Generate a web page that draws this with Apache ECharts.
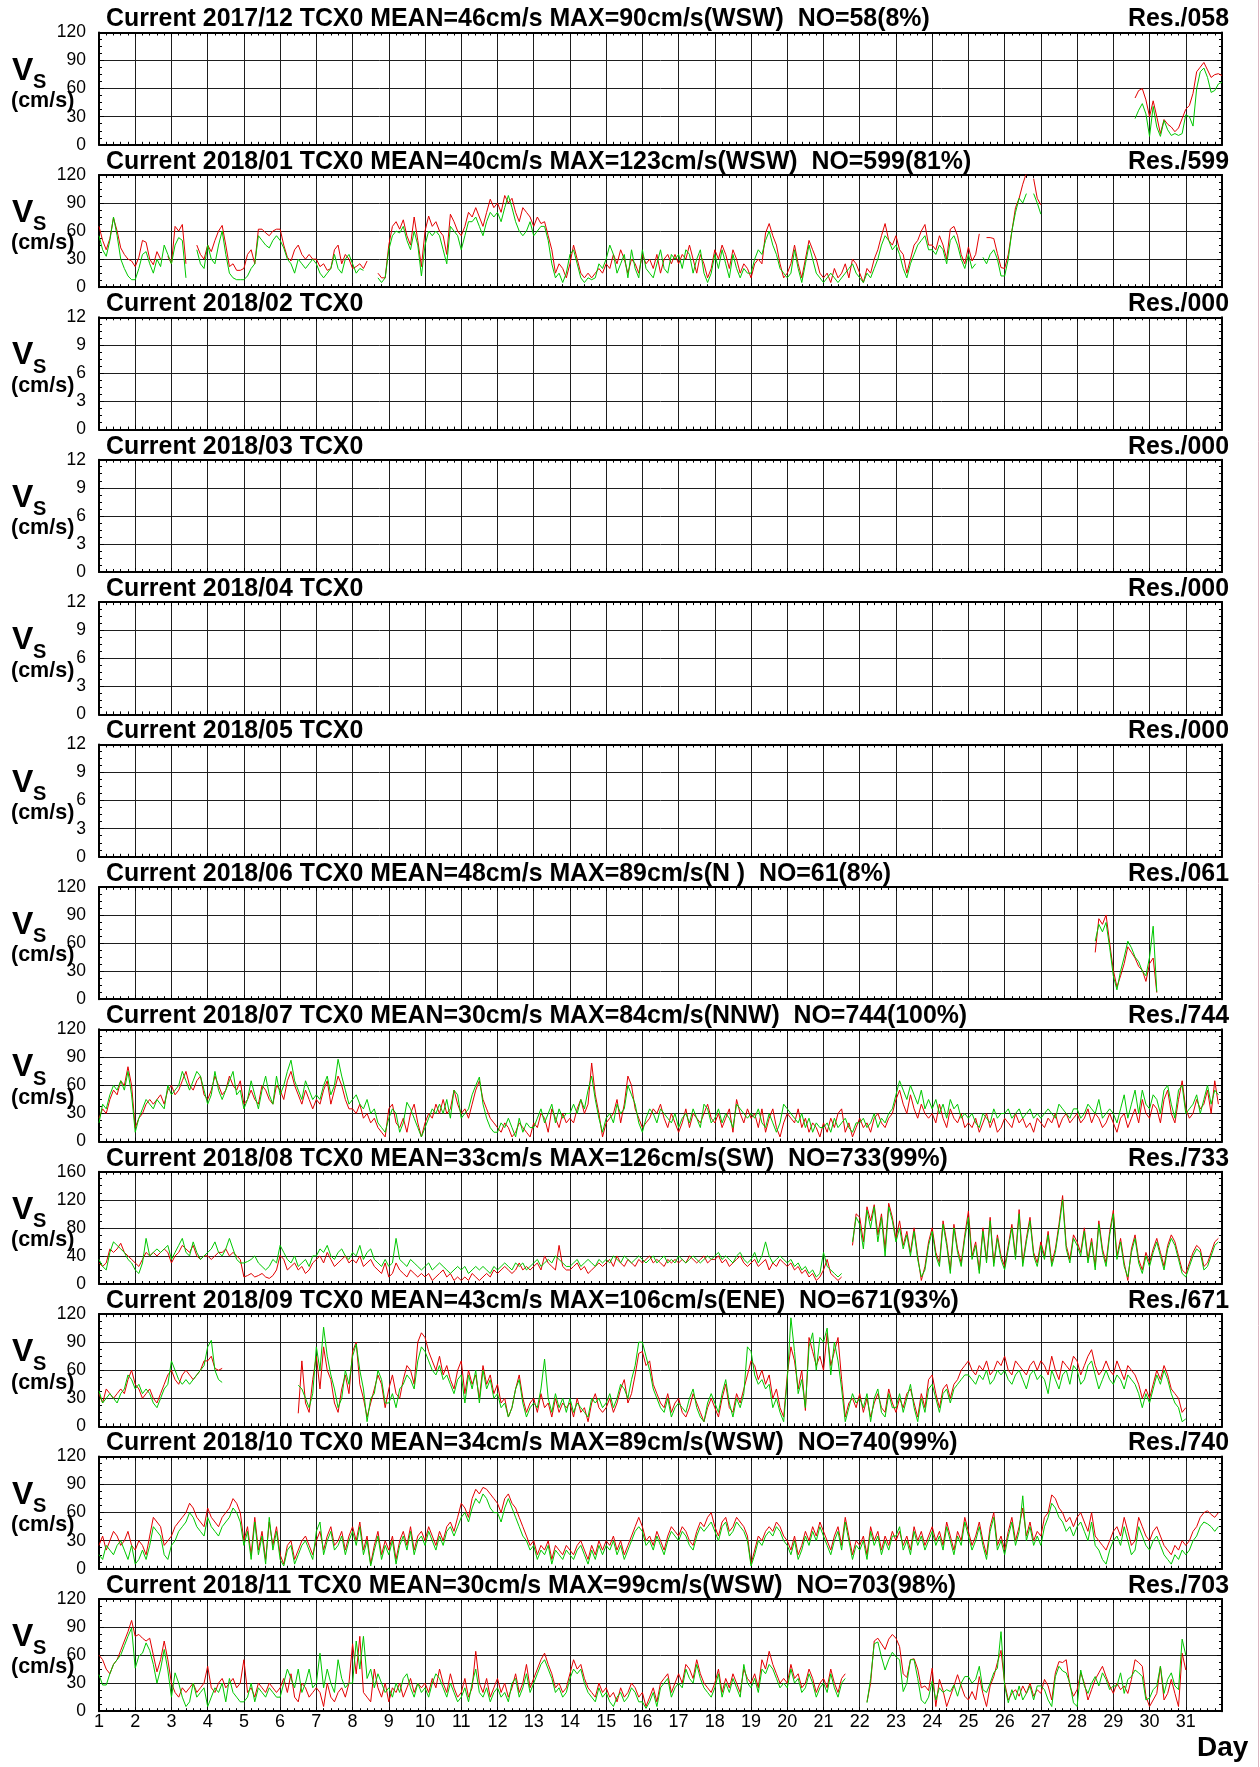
<!DOCTYPE html>
<html><head><meta charset="utf-8">
<script src="https://cdn.jsdelivr.net/npm/echarts@6/dist/echarts.min.js"></script>
<style>html,body{margin:0;padding:0;background:#fff}#c{width:1260px;height:1767px}</style>
</head><body><div id="c"></div><script>
const _ = null;
// ---- titles / labels ----
const titles = [
 'Current 2017/12 TCX0 MEAN=46cm/s MAX=90cm/s(WSW)  NO=58(8%)',
 'Current 2018/01 TCX0 MEAN=40cm/s MAX=123cm/s(WSW)  NO=599(81%)',
 'Current 2018/02 TCX0',
 'Current 2018/03 TCX0',
 'Current 2018/04 TCX0',
 'Current 2018/05 TCX0',
 'Current 2018/06 TCX0 MEAN=48cm/s MAX=89cm/s(N )  NO=61(8%)',
 'Current 2018/07 TCX0 MEAN=30cm/s MAX=84cm/s(NNW)  NO=744(100%)',
 'Current 2018/08 TCX0 MEAN=33cm/s MAX=126cm/s(SW)  NO=733(99%)',
 'Current 2018/09 TCX0 MEAN=43cm/s MAX=106cm/s(ENE)  NO=671(93%)',
 'Current 2018/10 TCX0 MEAN=34cm/s MAX=89cm/s(WSW)  NO=740(99%)',
 'Current 2018/11 TCX0 MEAN=30cm/s MAX=99cm/s(WSW)  NO=703(98%)'
];
const resLabels = ['Res./058','Res./599','Res./000','Res./000','Res./000','Res./000','Res./061','Res./744','Res./733','Res./671','Res./740','Res./703'];
const yMaxes = [120,120,12,12,12,12,120,120,160,120,120,120];
const ySteps = [30,30,3,3,3,3,30,30,40,30,30,30];
const yTicks120 = ['0','30','60','90','120'];
const yTicks12 = ['0','3','6','9','12'];
const yTicks160 = ['0','40','80','120','160'];
const dayLabels = ['1','2','3','4','5','6','7','8','9','10','11','12','13','14','15','16','17','18','19','20','21','22','23','24','25','26','27','28','29','30','31'];

// ---- data: values every 0.1 day starting at *_start ----
const dec_start = 29.6;
const dec_red = [50,58,60,48,30,47,30,12,27,22,19,14,18,28,38,42,55,78,83,88,80,72,75,76,74];
const dec_green = [28,37,44,33,9,41,19,9,26,16,10,12,10,12,32,30,20,60,78,82,72,56,58,65,67];

const jan_start = 1;
const jan_red = [
65,50,40,52,74,60,42,35,30,28, 22,32,50,48,30,24,38,30,_,33, 25,65,60,67,25,_,_,45,35,30,
45,38,50,60,66,45,22,25,18,18, 20,35,40,25,62,62,58,55,60,62, 62,45,32,28,40,45,35,30,35,30,
30,22,25,18,20,40,45,25,35,30, 20,22,25,20,28,_,_,15,10,10, 45,65,70,62,72,55,45,75,50,22,
60,76,65,70,60,55,35,78,70,60, 55,65,80,75,85,75,65,80,94,85, 90,80,98,90,95,80,70,85,80,75,
65,75,68,70,55,40,15,25,20,10, 25,45,30,15,10,15,10,15,20,15, 25,20,35,25,40,30,15,30,25,15,
35,25,30,20,35,15,30,35,25,35, 25,35,30,45,30,15,35,25,10,20, 40,30,45,35,20,40,30,15,25,20,
10,25,30,25,58,68,55,45,25,10, 15,25,45,25,10,30,50,40,30,15, 10,15,5,20,10,15,25,10,30,25,
15,5,20,15,30,40,55,68,50,45, 55,40,35,15,30,45,50,60,67,45, 45,40,55,45,30,62,65,55,35,25,
43,28,35,57,_,53,53,52,36,21, 20,35,60,85,95,110,122,_,116,95, 88];
const jan_green = [
55,40,33,50,75,55,30,20,12,8, 8,20,35,38,25,15,30,22,45,35, 25,45,53,50,10,_,_,40,25,20,
45,30,25,45,60,35,15,10,8,8, 8,12,20,25,55,50,45,42,50,55, 50,42,30,25,15,30,25,20,25,30,
25,15,10,15,20,35,20,15,30,35, 25,15,20,18,_,_,_,10,5,10, 40,55,60,58,65,50,40,60,45,12,
45,60,55,60,55,40,25,65,60,55, 40,55,70,70,75,65,55,70,80,75, 80,70,85,98,85,70,60,55,60,70,
55,60,65,65,50,25,10,15,5,15, 35,40,25,10,5,10,8,10,25,20, 30,45,35,15,25,35,10,40,20,10,
40,20,15,10,25,40,20,15,35,30, 35,20,40,35,15,30,40,15,5,15, 35,20,40,25,10,35,20,10,20,15,
15,30,40,35,50,60,45,35,20,15, 10,15,40,20,5,25,45,30,15,10, 5,10,15,10,5,10,15,20,25,15,
10,5,15,10,20,30,45,55,50,40, 45,35,20,10,25,35,45,50,55,40, 40,35,45,40,25,50,55,45,30,20,
35,20,25,_,32,25,35,40,30,12, 12,30,60,80,95,90,100,_,100,90, 78];

const jun_start = 28.5;
const jun_red = [50,86,80,90,60,31,13,25,38,56,50,44,35,31,19,38,44,7];
const jun_green = [62,80,72,82,55,25,10,30,45,62,55,45,40,30,25,45,78,8];

const jul_start = 1;
const jul_red = [
25,35,30,45,55,50,65,60,80,60, 15,25,30,40,45,40,45,50,40,55, 60,50,55,65,75,60,55,65,70,50,
45,55,70,60,50,55,70,60,55,65, 40,45,55,45,40,60,55,45,40,60, 55,45,65,75,60,50,40,55,45,35,
45,40,55,65,40,55,70,60,45,35, 35,30,40,25,30,20,25,15,10,5, 35,40,20,15,25,10,30,40,20,5,
20,30,25,40,30,45,30,35,55,40, 30,35,25,40,55,65,45,35,25,20, 15,10,20,15,5,10,20,15,10,5,
20,15,30,25,10,35,25,15,30,20, 25,20,35,45,30,40,84,50,30,5, 20,25,30,45,20,40,70,60,35,25,
15,20,25,35,30,40,25,15,30,20, 10,20,35,15,30,25,20,30,40,25, 20,30,15,25,35,10,45,30,20,35,
25,30,15,35,10,25,35,15,5,20, 30,25,20,35,15,25,10,20,15,5, 20,10,25,15,30,35,10,20,5,15,
25,15,20,10,25,30,20,15,25,30, 45,55,40,30,50,35,25,40,30,25, 30,20,40,25,15,35,25,20,30,15,
20,15,25,10,20,30,15,25,10,15, 25,20,15,30,20,25,15,20,10,25, 20,15,25,20,30,15,25,30,20,25,
30,20,25,35,20,30,25,15,20,30, 20,10,25,30,15,25,35,20,45,30, 25,40,35,20,45,55,30,20,45,65,
35,25,30,45,35,40,55,30,65,40];
const jul_green = [
20,40,35,50,60,55,65,55,75,50, 10,25,35,45,40,35,45,40,35,60, 50,55,60,75,65,55,65,75,70,55,
40,50,75,55,45,55,65,75,50,55, 35,45,65,50,35,55,70,50,40,70, 50,60,75,87,65,55,45,65,55,45,
50,45,60,70,50,60,88,70,55,40, 45,50,40,35,45,30,35,20,15,10, 25,35,30,10,20,42,35,25,15,5,
15,25,35,30,40,30,45,25,55,50, 25,30,35,50,60,69,40,25,15,10, 10,20,15,25,15,5,25,10,20,15,
15,25,35,20,30,40,20,35,25,30, 30,40,30,45,35,55,70,45,25,10, 25,30,20,40,30,35,60,50,40,20,
10,25,35,30,20,35,30,25,20,30, 15,25,30,20,35,25,15,40,35,20, 25,35,20,30,25,15,40,35,30,25,
30,25,35,20,15,30,20,10,20,40, 35,30,25,20,30,15,25,10,20,15, 15,20,10,25,15,20,25,15,10,20,
20,25,15,20,30,15,25,20,30,35, 50,65,55,45,60,50,40,55,35,45, 35,45,30,40,25,45,35,40,25,30,
25,30,20,15,30,25,20,35,25,30, 30,35,25,30,35,25,30,35,25,30, 25,30,35,30,25,40,35,30,25,35,
35,25,30,40,35,30,45,25,30,35, 30,20,35,50,25,40,55,30,55,40, 35,50,45,30,55,60,40,25,55,60,
30,35,40,50,30,45,60,40,55,50];

const aug_start = 1;
const aug_red = [
30,25,30,50,45,50,58,45,40,35, 30,25,35,45,40,45,40,45,50,45, 30,40,45,55,50,45,55,40,35,40,
40,35,40,45,45,50,40,45,40,35, 10,12,15,10,12,15,10,8,12,20, 41,35,20,25,30,20,25,15,20,30,
35,40,30,45,35,25,30,35,40,30, 35,30,40,25,30,35,25,20,15,30, 10,15,30,20,15,10,20,15,10,15,
10,15,5,10,15,20,10,15,5,10, 5,10,5,15,10,5,10,15,10,20, 15,20,25,20,15,20,30,20,25,20,
25,30,20,40,30,25,20,55,25,20, 20,25,30,20,25,15,20,25,30,25, 30,35,25,40,30,25,35,30,25,35,
30,35,40,30,35,30,25,35,30,35, 30,35,30,40,35,30,35,40,30,35, 35,40,30,35,25,30,35,40,30,25,
30,35,25,30,35,20,30,25,35,30, 25,30,20,25,15,20,10,15,5,10, 20,35,15,10,5,10,_,_,55,100,
95,60,110,90,113,70,100,50,115,95, 65,90,55,75,45,80,40,5,25,60, 80,45,30,90,60,20,85,50,30,70,
104,40,60,20,80,35,95,30,70,40, 25,55,85,40,106,30,65,95,45,30, 60,40,75,30,50,85,126,55,35,70,
60,45,80,35,65,25,90,50,30,75, 105,40,65,30,5,50,70,35,20,45, 30,50,65,45,25,55,70,60,40,20,
15,30,45,55,50,25,30,45,60,65];
const aug_green = [
35,25,20,45,60,55,50,45,35,30, 20,15,30,65,40,45,50,45,50,55, 35,45,55,65,45,40,60,45,35,40,
45,50,60,45,40,50,65,50,35,30, 30,32,35,40,30,25,20,25,35,30, 55,45,35,30,40,25,30,35,25,40,
40,50,45,55,40,35,45,50,40,35, 45,40,55,35,45,50,35,30,25,35, 25,30,65,35,30,25,35,30,25,20,
25,30,20,25,30,25,20,15,20,25, 20,25,15,20,25,20,25,20,15,25, 20,25,30,25,20,30,25,30,20,25,
30,35,25,30,35,30,40,35,30,25, 25,30,35,25,30,35,30,25,35,30, 35,30,40,35,30,40,35,30,35,40,
35,30,35,40,30,35,40,30,35,30, 40,35,30,35,40,35,30,35,40,35, 40,45,35,40,35,30,40,45,35,30,
35,45,30,40,60,40,30,35,40,35, 30,35,25,30,20,25,15,20,10,15, 45,25,20,15,10,15,_,_,60,95,
85,50,105,80,110,60,95,40,110,90, 60,80,50,70,40,75,35,10,20,55, 75,40,25,85,55,15,80,45,25,65,
95,35,55,15,75,30,90,25,65,35, 20,50,80,35,100,25,60,90,40,25, 55,35,70,25,45,80,120,50,30,65,
55,40,75,30,60,20,85,45,25,70, 100,35,60,25,10,45,65,30,15,40, 25,45,60,40,20,50,65,55,35,15,
10,25,40,50,45,20,25,40,55,60];

const sep_start = 1;
const sep_red = [
35,25,40,35,30,35,40,35,50,60, 45,40,30,35,40,30,25,35,45,55, 60,50,45,55,60,55,50,55,60,70,
70,75,62,60,62,_,_,_,_,_, _,_,_,_,_,_,_,_,_,_, _,_,_,_,_,14,70,25,15,50,
75,40,85,60,50,25,15,40,55,35, 80,90,45,30,10,25,40,55,45,20, 40,55,35,30,50,65,60,45,90,100,
95,80,70,60,75,55,65,50,40,60, 70,35,60,45,55,30,65,45,55,35, 45,25,30,10,20,40,55,30,15,25,
30,15,35,20,25,10,30,15,25,20, 25,10,30,15,20,5,25,35,20,15, 20,30,15,25,40,50,25,35,55,78,
80,65,70,45,35,25,20,35,15,25, 30,15,10,20,35,25,15,5,20,30, 20,10,30,45,20,15,35,25,40,55,
70,65,50,60,45,55,30,40,20,10, 55,85,70,40,60,17,95,80,65,75, 60,100,65,80,95,50,10,25,30,20,
35,15,30,10,25,35,20,15,40,25, 15,30,20,35,40,25,10,35,20,50, 55,35,20,40,45,30,45,50,60,65,
70,60,55,65,60,70,55,60,70,65, 75,60,55,70,65,60,55,65,70,60, 70,65,55,75,60,50,70,65,60,75,
70,55,65,75,82,65,55,60,70,60, 55,70,60,50,65,60,55,45,30,40, 30,45,60,50,65,55,40,35,30,15,
20];
const sep_green = [
38,25,30,35,30,25,35,40,55,50, 40,45,35,40,35,25,20,30,40,45, 70,60,50,45,50,45,50,55,60,65,
85,92,60,50,47,_,_,_,_,_, _,_,_,_,_,_,_,_,_,_, _,_,_,_,_,44,40,30,20,35,
85,60,106,75,55,40,20,30,60,45, 75,88,60,40,5,30,35,60,50,25, 25,35,20,40,45,55,50,40,70,85,
80,70,60,55,65,50,55,45,35,50, 55,25,55,40,60,25,60,40,50,30, 35,20,25,10,20,40,50,25,10,20,
25,20,40,72,30,15,35,20,30,15, 30,15,25,20,15,10,30,25,30,20, 25,35,20,30,45,40,30,50,65,90,
90,75,60,40,30,20,15,30,10,20, 25,20,15,30,40,20,10,5,25,35, 25,15,35,50,25,10,30,20,35,85,
80,55,45,50,40,45,20,30,15,5, 50,116,80,35,50,20,85,100,60,95, 90,105,55,90,70,40,5,20,35,25,
30,20,35,5,30,40,15,10,35,20, 20,35,15,30,45,20,5,30,15,40, 45,30,15,35,40,25,40,45,50,55,
55,50,45,55,50,60,45,50,60,55, 60,50,45,55,60,50,40,55,60,50, 55,50,35,60,50,40,55,60,45,65,
60,45,50,65,70,55,40,50,60,50, 45,55,50,40,55,50,45,35,20,35, 25,40,55,45,60,50,35,25,20,5,
8];

const oct_start = 1;
const oct_red = [
25,35,20,30,40,35,25,30,40,25, 20,30,25,15,35,55,50,45,25,30, 35,45,50,55,60,70,65,55,50,45,
65,55,50,45,55,60,65,75,70,60, 30,45,15,55,20,40,10,50,25,45, 15,5,25,30,10,20,30,35,25,15,
30,40,20,35,45,25,30,40,20,35, 45,30,50,20,35,5,25,40,15,30, 20,35,10,30,40,25,45,20,35,40,
30,45,35,25,40,30,45,50,40,55, 70,65,55,75,85,80,87,85,80,75, 70,60,75,80,70,65,55,45,35,25,
30,15,25,20,30,10,25,20,15,25, 20,15,25,30,20,10,25,15,30,20, 30,25,35,20,30,15,25,35,45,55,
45,30,35,25,40,30,20,35,45,40, 35,45,40,30,25,40,50,45,55,60, 45,35,50,55,40,45,55,50,45,35,
5,20,35,30,40,45,40,50,45,35, 30,20,35,15,25,40,30,45,35,50, 40,30,20,35,45,25,55,35,15,30,
25,35,15,45,30,40,20,35,25,40, 30,40,25,35,20,45,30,40,25,35, 45,30,40,25,50,35,20,40,30,55,
40,25,35,50,30,15,45,60,25,35, 20,40,55,30,45,65,35,50,30,40, 35,55,60,79,75,65,60,50,55,45,
55,60,50,40,60,35,30,25,20,30, 40,45,35,55,40,25,30,55,45,35, 30,40,45,35,25,20,15,25,20,30,
25,30,40,45,55,60,62,58,55,60];
const oct_green = [
15,10,25,20,15,25,30,20,10,25, 5,10,20,10,25,45,40,35,15,10, 25,30,40,45,50,60,55,45,40,35,
55,45,40,35,45,50,55,65,60,50, 25,40,10,50,15,35,5,55,20,40, 10,3,20,25,5,15,25,30,20,10,
40,50,15,30,40,20,25,35,15,30, 40,25,45,15,30,3,20,35,10,25, 15,30,5,25,35,20,40,15,30,35,
25,40,30,20,35,25,40,45,35,45, 55,60,50,65,75,70,80,75,65,60, 60,50,65,75,65,55,45,35,30,20,
25,10,20,15,25,5,20,15,10,20, 15,10,20,25,15,5,20,10,25,15, 25,20,30,15,25,10,20,30,40,45,
40,25,30,20,35,25,15,30,40,35, 30,40,35,25,20,35,45,40,45,50, 40,30,45,50,35,40,50,45,40,30,
3,15,30,25,35,40,35,45,40,30, 25,15,30,10,20,35,25,40,30,45, 35,25,15,30,40,20,50,30,10,25,
20,30,10,40,25,35,15,30,20,35, 35,45,20,30,15,40,25,35,20,30, 40,25,35,20,45,30,15,35,25,50,
35,20,30,45,25,10,40,55,20,30, 15,35,50,25,40,78,30,45,25,35, 25,45,55,70,65,55,50,40,45,35,
45,50,40,30,50,25,20,10,5,20, 30,35,25,45,30,15,20,45,35,25, 20,30,35,25,15,10,5,15,10,20,
15,20,30,35,45,50,48,45,40,45];

const nov_start = 1;
const nov_red = [
60,55,45,40,50,55,65,75,85,97, 80,82,78,75,78,60,42,55,75,55, 30,20,15,25,20,25,30,20,25,30,
48,25,20,30,35,25,30,35,25,30, 55,20,25,15,30,25,20,30,25,20, 25,35,20,40,15,10,30,25,15,20,
25,20,5,30,15,10,20,25,15,30, 72,40,80,20,15,10,45,25,15,30, 10,25,20,30,15,25,35,20,30,25,
30,20,35,25,45,30,20,40,25,15, 20,35,15,25,64,30,20,35,15,25, 35,20,30,15,25,40,20,30,50,25,
35,45,55,62,50,40,25,30,20,25, 40,55,45,50,35,25,20,15,30,20, 25,15,20,10,25,15,20,30,25,15,
20,5,15,25,10,30,35,40,20,30, 40,30,50,45,35,55,40,30,25,20, 30,45,20,35,25,40,30,20,45,35,
30,40,25,55,45,64,50,40,30,35, 30,50,35,40,25,30,45,35,20,30, 35,25,45,30,20,35,40,_,_,_,
_,_,10,30,75,78,72,66,77,82, 78,69,40,36,55,56,45,25,27,22, 46,5,34,22,5,16,27,39,27,16,
12,21,12,37,19,5,27,37,52,65, 30,12,19,23,16,27,19,30,16,23, 19,34,27,12,41,53,52,55,27,16,
23,41,30,12,23,34,41,48,37,27, 19,30,23,27,19,34,55,52,48,16, 5,12,19,48,12,19,34,19,5,62,
44];
const nov_green = [
39,28,28,40,50,55,60,70,80,89, 46,59,62,73,65,50,30,45,66,44, 15,41,30,15,5,10,30,15,20,25,
5,15,25,20,30,10,35,20,15,10, 10,15,30,10,25,20,15,25,20,15, 15,30,45,35,25,45,20,30,45,25,
30,62,25,45,30,20,55,35,25,30, 30,75,45,80,35,45,25,40,30,20, 25,15,30,20,35,40,25,15,30,20,
25,15,30,40,35,25,15,30,20,10, 15,25,10,30,45,20,15,25,10,20, 25,15,20,10,30,35,15,25,40,20,
30,40,50,55,45,35,20,25,15,20, 35,45,40,45,30,20,15,10,25,15, 20,10,5,15,20,10,15,25,20,10,
10,3,10,20,5,25,30,35,15,25, 30,25,45,35,30,50,35,25,20,15, 25,40,15,30,20,35,25,15,50,30,
25,35,20,45,40,50,45,35,25,30, 25,45,30,35,20,25,40,30,15,25, 30,20,40,25,15,30,35,_,_,_,
_,_,9,35,72,74,58,44,55,63, 58,55,21,30,55,55,35,12,8,15, 32,12,25,20,23,21,28,16,30,37,
37,30,34,48,23,20,30,41,46,85, 27,9,23,12,27,12,19,27,12,27, 27,23,12,5,37,48,43,41,30,9,
5,44,27,19,30,37,27,41,34,23, 27,27,41,19,34,37,44,41,37,12, 14,23,27,48,19,34,41,27,23,77,
60];

// ---- build ----
const FF = '"Liberation Sans", Arial, Helvetica, sans-serif';
const RED = '#e20000', GREEN = '#00c800';
const TOP0 = 32.5, PITCH = 142.4, PH = 112.3, PL = 99, PW = 1123;
const panelData = [
  [dec_start, dec_red, dec_green], [jan_start, jan_red, jan_green], null, null, null, null,
  [jun_start, jun_red, jun_green], [jul_start, jul_red, jul_green], [aug_start, aug_red, aug_green],
  [sep_start, sep_red, sep_green], [oct_start, oct_red, oct_green], [nov_start, nov_red, nov_green]
];
function pts(start, vals){ return vals.map((v,k)=>[Math.round((start + k*0.1)*100)/100, v]); }
const tickStyle = {color:'#000', width:1};
const grids=[], xAxes=[], yAxes=[], series=[], graphics=[];
for (let i=0;i<12;i++){
  const top = TOP0 + PITCH*i;
  grids.push({left:PL, top:top, width:PW, height:PH, containLabel:false, outerBoundsMode:'none'});
  const last = (i===11);
  ['bottom','top'].forEach(pos=>{
    xAxes.push({gridIndex:i, type:'value', position:pos, min:1, max:32, interval:1,
      axisLine:{show:true,onZero:false,lineStyle:{color:'#000',width:2}},
      axisTick:{show:true,inside:true,length:4,lineStyle:tickStyle},
      minorTick:{show:true,splitNumber:5,length:3,lineStyle:tickStyle},
      splitLine:{show:pos==='bottom',lineStyle:{color:'#1e1e1e',width:1}},
      axisLabel:{show:last && pos==='bottom', color:'#000', fontSize:18, fontFamily:FF, margin:2,
        formatter:v=>(v>=1&&v<=31)?dayLabels[Math.round(v)-1]:''}
    });
  });
  const labs = yMaxes[i]===160 ? yTicks160 : (yMaxes[i]===12 ? yTicks12 : yTicks120);
  ['left','right'].forEach(pos=>{
    yAxes.push({gridIndex:i, type:'value', position:pos, min:0, max:yMaxes[i], interval:ySteps[i],
      axisLine:{show:true,onZero:false,lineStyle:{color:'#000',width:2}},
      axisTick:{show:true,inside:true,length:5,lineStyle:tickStyle},
      minorTick:{show:true,splitNumber:4,length:3,lineStyle:tickStyle},
      splitLine:{show:pos==='left',lineStyle:{color:'#1e1e1e',width:1}},
      axisLabel:{show:pos==='left', color:'#000', fontSize:17.5, fontFamily:FF, margin:13,
        formatter:v=>labs[Math.round(v/ySteps[i])]}
    });
  });
  const d = panelData[i];
  if (d){
    series.push({type:'line', xAxisIndex:2*i, yAxisIndex:2*i, data:pts(d[0], d[1]), showSymbol:false, symbol:'none',
      connectNulls:false, silent:true, lineStyle:{color:RED,width:1}, itemStyle:{color:RED}, z:2});
    series.push({type:'line', xAxisIndex:2*i, yAxisIndex:2*i, data:pts(d[0], d[2]), showSymbol:false, symbol:'none',
      connectNulls:false, silent:true, lineStyle:{color:GREEN,width:1}, itemStyle:{color:GREEN}, z:3});
  }
  graphics.push({type:'text', x:106, y:top-13, style:{text:titles[i], font:'bold 24.9px '+FF, fill:'#000', verticalAlign:'middle', align:'left'}});
  graphics.push({type:'text', x:1229, y:top-13, style:{text:resLabels[i], font:'bold 24.9px '+FF, fill:'#000', verticalAlign:'middle', align:'right'}});
  graphics.push({type:'text', x:12, y:top+38.3, style:{text:'V', font:'bold 32px '+FF, fill:'#000', verticalAlign:'middle', align:'left'}});
  graphics.push({type:'text', x:33, y:top+50, style:{text:'S', font:'bold 20px '+FF, fill:'#000', verticalAlign:'middle', align:'left'}});
  graphics.push({type:'text', x:11, y:top+68.5, style:{text:'(cm/s)', font:'bold 21.5px '+FF, fill:'#000', verticalAlign:'middle', align:'left'}});
}
graphics.push({type:'text', x:1197, y:1748.6, style:{text:'Day', font:'bold 28px '+FF, fill:'#000', verticalAlign:'middle', align:'left'}});
graphics.push({type:'line', shape:{x1:1258.5, y1:0, x2:1258.5, y2:1767}, style:{stroke:'#dcb8c4', lineWidth:1}});

const chart = echarts.init(document.getElementById('c'), null, {renderer:'canvas', width:1260, height:1767});
chart.setOption({animation:false, backgroundColor:'#fff', grid:grids, xAxis:xAxes, yAxis:yAxes, series:series, graphic:graphics});
</script></body></html>
